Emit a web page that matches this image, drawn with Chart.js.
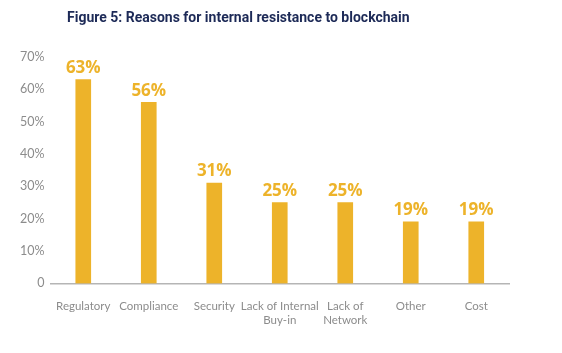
<!DOCTYPE html>
<html>
<head>
<meta charset="utf-8">
<script src="https://cdn.jsdelivr.net/npm/chart.js@4"></script>
<style>
  body { margin: 0; background: #fff; }
  #wrap { position: relative; width: 562px; height: 353px; }
  #title {
    position: absolute; left: 67px; top: 9px;
    font: bold 14px Roboto, sans-serif; color: #1d2a57;
  }
</style>
</head>
<body>
<div id="wrap">
  <div id="title">Figure 5: Reasons for internal resistance to blockchain</div>
  <canvas id="myChart" width="562" height="353"></canvas>
</div>
<script>
// Dados do gráfico
const categories = ['Regulatory', 'Compliance', 'Security', ['Lack of Internal', 'Buy-in'], ['Lack of', 'Network'], 'Other', 'Cost'];
const values = [63, 56, 31, 25, 25, 19, 19];
const yTicks = [0, 10, 20, 30, 40, 50, 60, 70];

const barColor = '#edb32a';

// Rótulos em cima das barras
const valueLabels = {
    id: 'valueLabels',
    afterDatasetsDraw(chart) {
        const ctx = chart.ctx;
        const meta = chart.getDatasetMeta(0);
        ctx.save();
        ctx.fillStyle = barColor;
        ctx.font = 'bold 17px "Open Sans", sans-serif';
        ctx.textAlign = 'center';
        ctx.textBaseline = 'bottom';
        meta.data.forEach((bar, i) => {
            ctx.fillText(values[i] + '%', bar.x, bar.y - 3);
        });
        ctx.restore();
    }
};

const config = {
    type: 'bar',
    data: {
        labels: categories,
        datasets: [{
            data: values,
            backgroundColor: barColor,
            barThickness: 15
        }]
    },
    options: {
        responsive: false,
        animation: false,
        layout: { padding: { left: 14, right: 53, top: 57, bottom: 10 } },
        plugins: {
            legend: { display: false },
            tooltip: { enabled: false }
        },
        scales: {
            x: {
                grid: { display: false, drawTicks: false },
                border: { color: '#b5b5b5', width: 1.5 },
                ticks: {
                    color: '#8c8c8c',
                    font: { family: 'Lato', size: 11.5 },
                    padding: 16,
                    maxRotation: 0,
                    autoSkip: false
                }
            },
            y: {
                min: 0,
                max: 70,
                afterBuildTicks(axis) {
                    axis.ticks = yTicks.map(v => ({ value: v }));
                },
                grid: { display: false, drawTicks: false },
                border: { display: false },
                ticks: {
                    color: '#8c8c8c',
                    font: { family: 'Lato', size: 12.5 },
                    padding: 6,
                    callback: v => v === 0 ? '0' : v + '%'
                }
            }
        }
    },
    plugins: [valueLabels]
};

new Chart(document.getElementById('myChart').getContext('2d'), config);
</script>
</body>
</html>
